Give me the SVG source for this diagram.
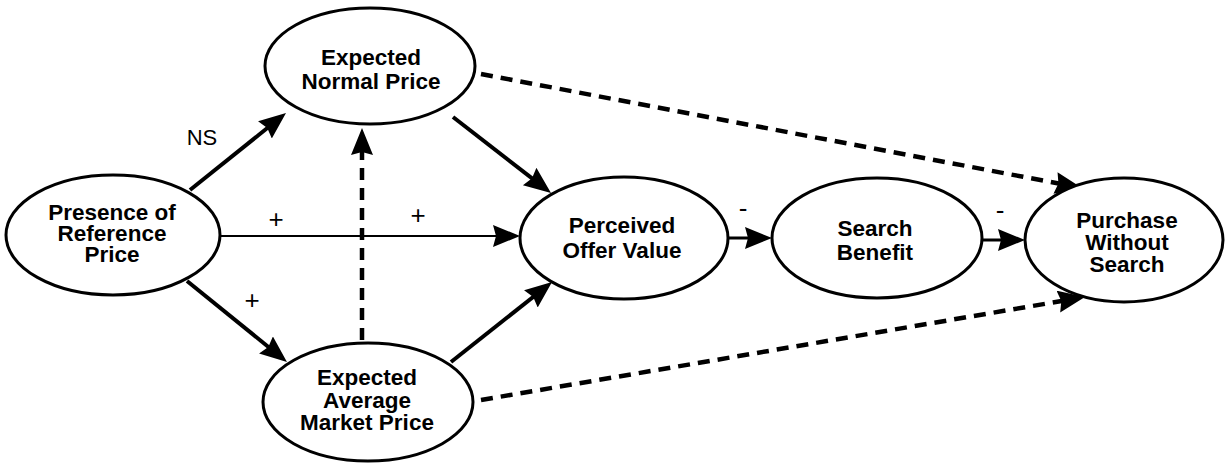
<svg xmlns="http://www.w3.org/2000/svg" width="1226" height="464" viewBox="0 0 1226 464">
  <style>
    .node ellipse { fill: #fff; stroke: #000; stroke-width: 3; }
    .node text { font-family: "Liberation Sans", Arial, sans-serif; font-weight: bold; font-size: 22.5px; text-anchor: middle; fill: #000; }
    .lbl { font-family: "Liberation Sans", Arial, sans-serif; font-size: 22px; text-anchor: middle; fill: #000; }
    .sign { font-family: "Liberation Sans", Arial, sans-serif; font-size: 26px; text-anchor: middle; fill: #000; }
    .solid { stroke: #000; stroke-width: 4; fill: none; marker-end: url(#arrow); }
    .thin { stroke: #000; stroke-width: 2.2; fill: none; marker-end: url(#arrow); }
    .mid { stroke: #000; stroke-width: 3; fill: none; marker-end: url(#arrow); }
    .dash { stroke: #000; stroke-width: 4.5; fill: none; stroke-dasharray: 12 8; marker-end: url(#arrow); }
  </style>
  <defs>
    <marker id="arrow" markerUnits="userSpaceOnUse" markerWidth="30" markerHeight="24" refX="17" refY="11" orient="auto" viewBox="0 0 30 24">
      <path d="M0,0 L27,11 L0,22 L3,11 z" fill="#000"/>
    </marker>
  </defs>
  <rect width="1226" height="464" fill="#fff"/>

  <g id="connectors">
    <!-- reference price to expected normal price (NS) -->
    <line class="solid" x1="190" y1="190" x2="278.2" y2="119.3"/>
    <!-- reference price to perceived offer value -->
    <line class="thin" x1="220" y1="236" x2="510" y2="236"/>
    <!-- reference price to expected average market price -->
    <line class="solid" x1="187" y1="281" x2="279.2" y2="355.7"/>
    <!-- market price to normal price -->
    <line class="dash" x1="362" y1="340" x2="362" y2="138"/>
    <!-- price expectations to perceived offer value -->
    <line class="solid" x1="453" y1="117" x2="543.1" y2="186.9"/>
    <line class="solid" x1="451" y1="362" x2="544.2" y2="288.2"/>
    <!-- main chain -->
    <line class="mid" x1="729" y1="238" x2="762" y2="238"/>
    <line class="mid" x1="982" y1="240" x2="1015" y2="240"/>
    <!-- price expectations to purchase without search -->
    <line class="dash" x1="481" y1="74" x2="1072.2" y2="186.1"/>
    <line class="dash" x1="481" y1="400" x2="1075.1" y2="298.7"/>

    <text class="lbl" x="202" y="145">NS</text>
    <text class="sign" x="276" y="228">+</text>
    <text class="sign" x="418" y="224">+</text>
    <text class="sign" x="252" y="309">+</text>
    <text class="sign" x="743" y="217">-</text>
    <text class="sign" x="1000" y="219">-</text>
  </g>

  <g id="presence" class="node">
    <ellipse cx="113" cy="235" rx="107" ry="60"/>
    <text x="112" y="220">Presence of</text>
    <text x="112" y="241">Reference</text>
    <text x="112" y="262">Price</text>
  </g>

  <g id="normal-price" class="node">
    <ellipse cx="370" cy="66" rx="105" ry="58"/>
    <text x="371" y="65">Expected</text>
    <text x="371" y="89">Normal Price</text>
  </g>

  <g id="market-price" class="node">
    <ellipse cx="368" cy="402" rx="105" ry="59"/>
    <text x="367" y="385">Expected</text>
    <text x="367" y="408">Average</text>
    <text x="367" y="430">Market Price</text>
  </g>

  <g id="offer-value" class="node">
    <ellipse cx="624" cy="238" rx="104" ry="61"/>
    <text x="622" y="233">Perceived</text>
    <text x="622" y="258">Offer Value</text>
  </g>

  <g id="search-benefit" class="node">
    <ellipse cx="877" cy="238" rx="105" ry="60"/>
    <text x="875" y="236">Search</text>
    <text x="875" y="260">Benefit</text>
  </g>

  <g id="purchase" class="node">
    <ellipse cx="1124" cy="240" rx="99" ry="62"/>
    <text x="1127" y="228">Purchase</text>
    <text x="1127" y="250">Without</text>
    <text x="1127" y="272">Search</text>
  </g>
</svg>
